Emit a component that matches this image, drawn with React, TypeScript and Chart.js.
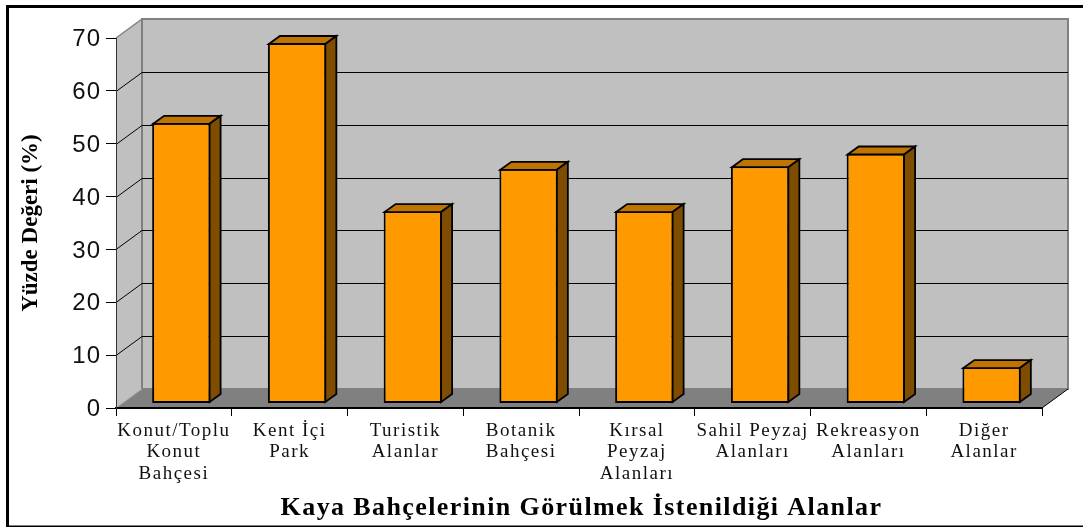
import React, { useEffect, useRef } from "react";
import { Chart, registerables } from "chart.js";

Chart.register(...registerables);

const categories: (string | string[])[] = [
  ["Konut/Toplu", "Konut", "Bahçesi"],
  ["Kent İçi", "Park"],
  ["Turistik", "Alanlar"],
  ["Botanik", "Bahçesi"],
  ["Kırsal", "Peyzaj", "Alanları"],
  ["Sahil Peyzaj", "Alanları"],
  ["Rekreasyon", "Alanları"],
  ["Diğer", "Alanlar"],
];
const values = [53.1, 68.2, 36.4, 44.4, 36.4, 44.9, 47.3, 6.9];
const yTickValues = [0, 10, 20, 30, 40, 50, 60, 70];
const xTitle = "Kaya Bahçelerinin Görülmek İstenildiği Alanlar";
const yTitle = "Yüzde Değeri (%)";

const WALL_DX = 26;
const WALL_DY = 19;
const BAR_DX = 7.5;
const BAR_DY = 4.5;
const SIDE_DX = 11;
const SIDE_DY = 8;

function poly(ctx: CanvasRenderingContext2D, pts: number[][], fill: string | null, stroke: string | null, lw = 1) {
  ctx.beginPath();
  pts.forEach((p, i) => (i ? ctx.lineTo(p[0], p[1]) : ctx.moveTo(p[0], p[1])));
  ctx.closePath();
  if (fill) {
    ctx.fillStyle = fill;
    ctx.fill();
  }
  if (stroke) {
    ctx.strokeStyle = stroke;
    ctx.lineWidth = lw;
    ctx.stroke();
  }
}

function line(ctx: CanvasRenderingContext2D, x0: number, y0: number, x1: number, y1: number, color: string, lw = 1) {
  ctx.beginPath();
  ctx.moveTo(x0, y0);
  ctx.lineTo(x1, y1);
  ctx.strokeStyle = color;
  ctx.lineWidth = lw;
  ctx.stroke();
}

const scene3d = {
  id: "scene3d",
  beforeDraw(chart: any) {
    const { ctx, chartArea: a, scales } = chart;
    const l = a.left, r = a.right, t = a.top, b = a.bottom;
    const dx = WALL_DX, dy = WALL_DY;
    ctx.save();
    ctx.fillStyle = "#ffffff";
    ctx.fillRect(0, 0, chart.width, chart.height);
    poly(ctx, [[l, t], [l + dx, t - dy], [l + dx, b - dy], [l, b]], "#c0c0c0", null);
    poly(ctx, [[l + dx, t - dy], [r + dx, t - dy], [r + dx, b - dy], [l + dx, b - dy]], "#c0c0c0", "#808080", 2);
    poly(ctx, [[l, b], [l + dx, b - dy], [r + dx, b - dy], [r, b]], "#808080", null);
    line(ctx, l, t, l + dx, t - dy, "#808080", 1.5);
    line(ctx, l, b, l + dx, b - dy, "#a0a0a0", 1);
    line(ctx, r, b, r + dx, b - dy, "#000000", 1);
    yTickValues.forEach((v) => {
      if (v === 0 || v === 70) return;
      const y = Math.round(scales.y.getPixelForValue(v)) + 0.5;
      line(ctx, l, y, l + dx, y - dy, "#000000", 1);
      line(ctx, l + dx, y - dy, r + dx, y - dy, "#000000", 1);
    });
    ctx.restore();
  },
  beforeDatasetsDraw(chart: any) {
    chart.ctx.save();
    chart.ctx.translate(BAR_DX, -BAR_DY);
  },
  afterDatasetsDraw(chart: any) {
    const ctx = chart.ctx;
    chart.getDatasetMeta(0).data.forEach((bar: any) => {
      const p = bar.getProps(["x", "y", "base", "width"], true);
      const x0 = p.x - p.width / 2 + 1, x1 = p.x + p.width / 2 - 1;
      const yt = p.y + 1, yb = p.base - 1;
      ctx.lineJoin = "miter";
      poly(ctx, [[x0, yt], [x0 + SIDE_DX, yt - SIDE_DY], [x1 + SIDE_DX, yt - SIDE_DY], [x1, yt]], "#bf7300", "#000000", 1.8);
      poly(ctx, [[x1, yt], [x1 + SIDE_DX, yt - SIDE_DY], [x1 + SIDE_DX, yb - SIDE_DY], [x1, yb]], "#7f4d00", "#000000", 1.8);
    });
    ctx.restore();
    ctx.save();
    ctx.fillStyle = "#000000";
    ctx.fillRect(6, 5, 1077, 3);
    ctx.fillRect(6, 5, 3, 522);
    ctx.fillRect(6, 525.5, 1077, 1.5);
    ctx.restore();
  },
};

function spaced(scale: any, labelSpacing: string, titleSpacing: string, titleShift: number, labelShiftY: number) {
  const orig = scale.drawLabels;
  scale.drawLabels = function (area: any) {
    const ctx = this.ctx;
    ctx.save();
    ctx.letterSpacing = labelSpacing;
    ctx.translate(0, labelShiftY);
    orig.call(this, area);
    ctx.restore();
  };
  const origT = scale.drawTitle;
  scale.drawTitle = function (area: any) {
    const ctx = this.ctx;
    ctx.save();
    ctx.letterSpacing = titleSpacing;
    ctx.translate(titleShift, 0);
    origT.call(this, area);
    ctx.restore();
  };
}

export default function App() {
  const ref = useRef<HTMLCanvasElement>(null);
  useEffect(() => {
    document.body.style.margin = "0";
    const chart = new Chart(ref.current!, {
      type: "bar",
      data: {
        labels: categories as any,
        datasets: [
          {
            data: values,
            backgroundColor: "#ff9900",
            borderColor: "#000000",
            borderWidth: 2,
            borderSkipped: false,
            barPercentage: 0.505,
            categoryPercentage: 1,
            clip: false as any,
          },
        ],
      },
      options: {
        animation: false,
        responsive: false,
        layout: { padding: { top: 38, right: 41, left: 0, bottom: 0 } },
        plugins: { legend: { display: false }, tooltip: { enabled: false } },
        scales: {
          x: {
            offset: true,
            afterFit: (s: any) => { s.height = 119; },
            grid: { offset: true, drawOnChartArea: false, color: "#000000", tickLength: 8, tickWidth: 1 },
            border: { color: "#000000", width: 2 },
            ticks: {
              color: "#111111",
              maxRotation: 0,
              autoSkip: false,
              padding: 4,
              font: { family: "'Liberation Serif'", size: 19, lineHeight: 1.14 },
            },
            title: {
              display: true,
              text: xTitle,
              color: "#000000",
              font: { family: "'Liberation Serif'", size: 26, weight: "bold" },
              padding: { top: 0, bottom: 3 },
            },
          },
          y: {
            min: 0,
            max: 70,
            afterFit: (s: any) => { s.width = 116; },
            afterBuildTicks: (s: any) => { s.ticks = yTickValues.map((v) => ({ value: v })); },
            grid: { drawOnChartArea: false, color: "#000000", tickLength: 10, tickWidth: 1 },
            border: { color: "#333333", width: 1 },
            ticks: {
              color: "#111111",
              padding: 5,
              font: { family: "'Liberation Sans'", size: 24 },
            },
            title: {
              display: true,
              text: yTitle,
              color: "#000000",
              font: { family: "'Liberation Serif'", size: 23, weight: "bold" },
              padding: { top: 17, bottom: 0 },
            },
          },
        },
      },
      plugins: [
        scene3d as any,
        {
          id: "spacing",
          beforeDraw(c: any) {
            if (!c.$spaced) {
              spaced(c.scales.x, "1.5px", "1.4px", 2.5, 0);
              spaced(c.scales.y, "1px", "0px", 0, 1.5);
              c.$spaced = true;
            }
          },
        } as any,
      ],
    });
    chart.draw();
    return () => chart.destroy();
  }, []);
  return <canvas ref={ref} width={1083} height={527} style={{ display: "block", width: 1083, height: 527 }} />;
}
